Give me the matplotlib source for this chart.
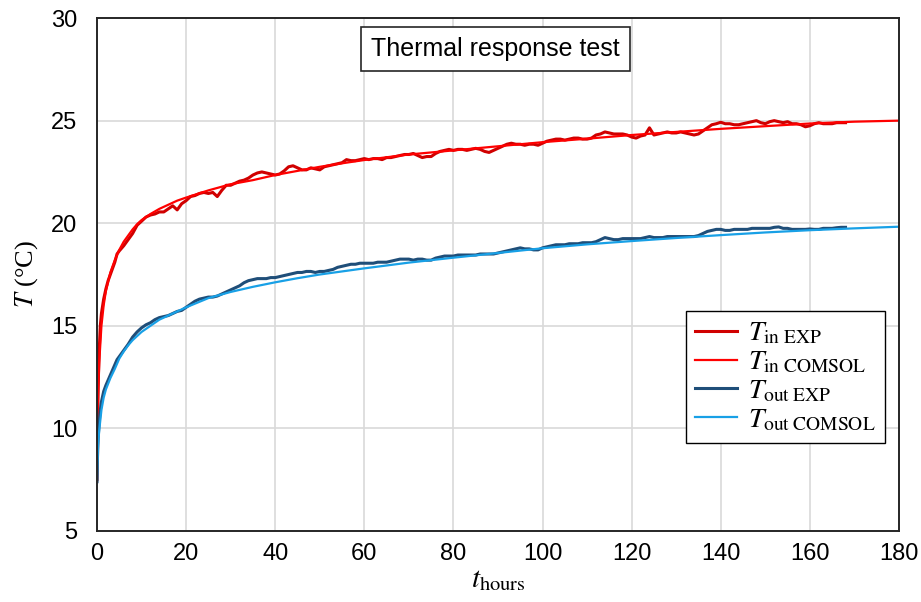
import matplotlib.pyplot as plt

plt.rcParams['mathtext.fontset'] = 'stix'
plt.rcParams['font.family'] = 'Liberation Sans'

# measured (EXP) series, hours
t_exp = [0, 0.1, 0.25, 0.5, 0.75, 1, 1.5, 2, 2.5, 3, 3.5, 4, 4.5] + list(range(5, 169))

tin_exp = [7.5, 9.8, 12.0, 13.8, 15.0, 15.6, 16.3, 16.8, 17.2, 17.5, 17.8, 18.1, 18.5,
           18.65, 18.9, 19.2, 19.5, 19.9, 20.1, 20.3, 20.4, 20.45, 20.55,
           20.55, 20.7, 20.85, 20.65, 20.95, 21.1, 21.3, 21.35, 21.45, 21.5,
           21.45, 21.5, 21.3, 21.6, 21.85, 21.85, 21.95, 22.05, 22.1, 22.2,
           22.35, 22.45, 22.5, 22.45, 22.4, 22.35, 22.4, 22.55, 22.75, 22.8,
           22.7, 22.6, 22.6, 22.7, 22.65, 22.6, 22.75, 22.8, 22.85, 22.9,
           22.95, 23.1, 23.05, 23.05, 23.1, 23.15, 23.1, 23.15, 23.15, 23.1,
           23.2, 23.2, 23.25, 23.3, 23.35, 23.35, 23.4, 23.3, 23.2, 23.25,
           23.25, 23.4, 23.5, 23.55, 23.6, 23.55, 23.6, 23.6, 23.55, 23.6,
           23.65, 23.6, 23.5, 23.45, 23.55, 23.65, 23.75, 23.85, 23.9, 23.85,
           23.85, 23.8, 23.85, 23.85, 23.8, 23.9, 24.0, 24.05, 24.1, 24.1,
           24.05, 24.1, 24.15, 24.15, 24.1, 24.1, 24.15, 24.3, 24.35, 24.45,
           24.4, 24.35, 24.35, 24.35, 24.3, 24.2, 24.15, 24.25, 24.3, 24.65,
           24.3, 24.35, 24.4, 24.45, 24.4, 24.4, 24.45, 24.4, 24.35, 24.3,
           24.35, 24.5, 24.65, 24.8, 24.85, 24.92, 24.85, 24.85, 24.8, 24.8,
           24.85, 24.9, 24.95, 25.0, 24.9, 24.85, 24.95, 25.0, 24.95, 24.9,
           24.95, 24.85, 24.85, 24.8, 24.7, 24.75, 24.85, 24.9, 24.85, 24.85,
           24.85, 24.9, 24.9, 24.9]

tout_exp = [7.4, 8.5, 9.5, 10.3, 10.9, 11.3, 11.8, 12.1, 12.35, 12.6, 12.85, 13.1, 13.35,
            13.5, 13.8, 14.1, 14.45, 14.7, 14.9, 15.05, 15.15, 15.3, 15.4,
            15.45, 15.5, 15.6, 15.7, 15.75, 15.9, 16.05, 16.2, 16.3, 16.35,
            16.4, 16.4, 16.45, 16.55, 16.65, 16.75, 16.85, 16.95, 17.1, 17.2,
            17.25, 17.3, 17.3, 17.3, 17.35, 17.35, 17.4, 17.45, 17.5, 17.55,
            17.6, 17.6, 17.65, 17.65, 17.6, 17.65, 17.65, 17.7, 17.75, 17.85,
            17.9, 17.95, 18.0, 18.0, 18.05, 18.05, 18.05, 18.05, 18.1, 18.1,
            18.1, 18.15, 18.2, 18.25, 18.25, 18.25, 18.2, 18.25, 18.25, 18.2,
            18.2, 18.3, 18.35, 18.4, 18.4, 18.4, 18.45, 18.45, 18.45, 18.45,
            18.45, 18.5, 18.5, 18.5, 18.5, 18.55, 18.6, 18.65, 18.7, 18.75,
            18.8, 18.75, 18.75, 18.7, 18.7, 18.8, 18.85, 18.9, 18.95, 18.95,
            18.95, 19.0, 19.0, 19.0, 19.05, 19.05, 19.05, 19.1, 19.2, 19.3,
            19.25, 19.2, 19.2, 19.25, 19.25, 19.25, 19.25, 19.25, 19.3, 19.35,
            19.3, 19.3, 19.3, 19.35, 19.35, 19.35, 19.35, 19.35, 19.35, 19.35,
            19.4, 19.5, 19.6, 19.65, 19.7, 19.7, 19.65, 19.65, 19.7, 19.7,
            19.7, 19.7, 19.75, 19.75, 19.75, 19.75, 19.75, 19.8, 19.82, 19.75,
            19.75, 19.7, 19.7, 19.7, 19.7, 19.72, 19.7, 19.7, 19.75, 19.75,
            19.75, 19.78, 19.8, 19.8]

# COMSOL model series
t_model = [0, 0.1, 0.25, 0.5, 1, 1.5, 2, 3, 4, 5, 6, 7, 8, 9, 10, 12, 14, 16, 18, 20,
           25, 30, 35, 40, 45, 50, 55, 60, 70, 80, 90, 100, 110, 120, 130, 140,
           150, 160, 170, 180]
tin_model = [7.5, 9.5, 11.5, 13.2, 15.0, 16.0, 16.7, 17.6, 18.2, 18.7, 19.1, 19.4,
             19.7, 19.95, 20.15, 20.45, 20.7, 20.9, 21.1, 21.25, 21.6, 21.9, 22.1,
             22.35, 22.55, 22.75, 22.92, 23.08, 23.35, 23.55, 23.75, 23.95, 24.12,
             24.3, 24.45, 24.6, 24.73, 24.86, 24.95, 25.0]
tout_model = [7.4, 8.3, 9.2, 9.9, 10.9, 11.5, 11.9, 12.45, 12.9, 13.4, 13.75, 14.05,
              14.3, 14.5, 14.7, 15.0, 15.3, 15.5, 15.7, 15.9, 16.35, 16.65, 16.9,
              17.12, 17.32, 17.5, 17.65, 17.8, 18.08, 18.32, 18.55, 18.78, 18.97,
              19.13, 19.28, 19.42, 19.55, 19.66, 19.75, 19.83]

fig = plt.figure(figsize=(9.21, 6.02), dpi=100)
ax = fig.add_axes([0.1053, 0.118, 0.8708, 0.852])

ax.plot(t_exp, tin_exp, color='#d00000', lw=2.2, label=r'$T_{\mathrm{in\ EXP}}$')
ax.plot(t_model, tin_model, color='#ff0000', lw=1.6, label=r'$T_{\mathrm{in\ COMSOL}}$')
ax.plot(t_exp, tout_exp, color='#1f4e79', lw=2.2, label=r'$T_{\mathrm{out\ EXP}}$')
ax.plot(t_model, tout_model, color='#18a0e6', lw=1.6, label=r'$T_{\mathrm{out\ COMSOL}}$')

ax.set_xlim(0, 180)
ax.set_ylim(5, 30)
ax.set_xticks(range(0, 181, 20))
ax.set_yticks(range(5, 31, 5))
ax.tick_params(length=0, labelsize=17)
ax.tick_params(axis='y', pad=14)
ax.tick_params(axis='x', pad=9)
ax.grid(True, color='#d9d9d9', lw=1.2)
ax.set_axisbelow(True)
for s in ax.spines.values():
    s.set_color('#262626')
    s.set_linewidth(1.4)

ax.set_xlabel(r'$t_{\mathrm{hours}}$', fontsize=21, labelpad=0)
ax.set_ylabel(r'$T$ (°C)', fontsize=19, family='Liberation Serif', labelpad=8)

ax.text(89.5, 28.5, 'Thermal response test', ha='center', va='center', fontsize=18,
        bbox=dict(boxstyle='square,pad=0.4', fc='white', ec='#262626', lw=1.2))

leg = ax.legend(loc='upper left', bbox_to_anchor=(0.734, 0.429), borderaxespad=0,
                fontsize=20, frameon=True, fancybox=False, edgecolor='black',
                framealpha=1, handlelength=1.5, borderpad=0.35, labelspacing=0.1,
                handletextpad=0.4)
leg.get_frame().set_linewidth(1.0)

fig.savefig('out.png', dpi=100)
